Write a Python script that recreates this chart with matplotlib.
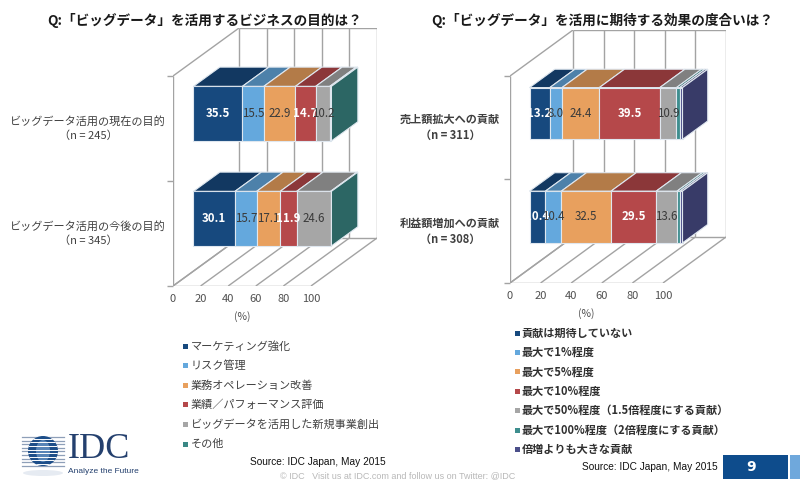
import numpy as np
import matplotlib
matplotlib.use('Agg')
import matplotlib.pyplot as plt
from matplotlib.patches import Polygon, Rectangle, Circle, Ellipse
from matplotlib.colors import to_rgb

plt.rcParams['font.family'] = ['Noto Sans CJK JP', 'DejaVu Sans']

# --- data ---
left_title = 'Q:「ビッグデータ」を活用するビジネスの目的は？'
left_categories = ['ビッグデータ活用の現在の目的\n（n = 245）', 'ビッグデータ活用の今後の目的\n（n = 345）']
left_series = ['マーケティング強化', 'リスク管理', '業務オペレーション改善',
               '業績／パフォーマンス評価', 'ビッグデータを活用した新規事業創出', 'その他']
left_current = [35.5, 15.5, 22.9, 14.7, 10.2, 1.2]
left_future = [30.1, 15.7, 17.1, 11.9, 24.6, 0.6]

right_title = 'Q:「ビッグデータ」を活用に期待する効果の度合いは？'
right_categories = ['売上額拡大への貢献\n（n = 311）', '利益額増加への貢献\n（n = 308）']
right_series = ['貢献は期待していない', '最大で1%程度', '最大で5%程度', '最大で10%程度',
                '最大で50%程度（1.5倍程度にする貢献）', '最大で100%程度（2倍程度にする貢献）',
                '倍増よりも大きな貢献']
right_sales = [13.2, 8.0, 24.4, 39.5, 10.9, 2.1, 1.9]
right_profit = [10.4, 10.4, 32.5, 29.5, 13.6, 1.9, 1.7]

x_ticks = [0, 20, 40, 60, 80, 100]
source_text = 'Source: IDC Japan, May 2015'

# --- styles ---
left_colors = ['#17497E', '#64A8DD', '#E8A05E', '#B5484A', '#A6A6A6', '#3A8885']
right_colors = ['#17497E', '#64A8DD', '#E8A05E', '#B5484A', '#A6A6A6', '#3E8E8E', '#4B4F8A']
white_label = [True, False, False, True, False, False, False]

W, H = 800, 486
fig = plt.figure(figsize=(8, 4.86), dpi=100)
fig.patch.set_facecolor('white')


def shade(c, k=0.77):
    r, g, b = to_rgb(c)
    return (r * k, g * k, b * k)


def draw_chart(ox, oy, sx, sy, ddx, ddy, rows, cats, colors, half, pad, weight):
    # oblique "3D" look: depth offset (DX, DY) in data units
    DX, DY = ddx / sx, ddy / sy
    xmax, ymax = 100 + DX, 2 + DY
    ax = fig.add_axes([ox / W, 1 - oy / H, xmax * sx / W, ymax * sy / H])
    ax.set_xlim(0, xmax)
    ax.set_ylim(0, ymax)
    ax.patch.set_visible(False)
    for s in ax.spines.values():
        s.set_visible(False)

    wall = dict(color='#a3a3a3', lw=1.0, zorder=1, solid_capstyle='butt')
    for t in x_ticks:
        ax.plot([t, t + DX], [0, DY], **wall)
        ax.plot([t + DX, t + DX], [DY, 2 + DY], **wall)
    ax.plot([0, 100], [0, 0], **wall)
    ax.plot([DX, 100 + DX], [DY, DY], **wall)
    ax.plot([DX, 100 + DX], [2 + DY, 2 + DY], **wall)
    ax.plot([0, DX], [0, DY], **wall)
    ax.plot([0, DX], [2, 2 + DY], **wall)
    ax.plot([0, 0], [0, 2], **wall)

    ax.set_xticks(x_ticks)
    ax.set_xticklabels([str(t) for t in x_ticks])
    ax.tick_params(axis='x', length=0, pad=6, labelsize=8, labelcolor='#505050')
    ax.set_yticks([0, 1, 2])
    ax.set_yticklabels([])
    ax.tick_params(axis='y', length=4, color='#a3a3a3', width=1)
    ax.annotate('(%)', xy=(50, 0), xytext=(0, -31), textcoords='offset pixels',
                ha='center', va='center', fontsize=7.5, color='#505050',
                annotation_clip=False)

    f0, f1 = 0.31, 0.71
    edge = '#dfe7ef'
    for yc, vals, cat in zip([1.5, 0.5], rows, cats):
        y0, y1 = yc - half, yc + half
        left = 0
        for i, v in enumerate(vals):
            a, b = left, left + v
            front = [(a + f0 * DX, y0 + f0 * DY), (b + f0 * DX, y0 + f0 * DY),
                     (b + f0 * DX, y1 + f0 * DY), (a + f0 * DX, y1 + f0 * DY)]
            top = [(a + f0 * DX, y1 + f0 * DY), (b + f0 * DX, y1 + f0 * DY),
                   (b + f1 * DX, y1 + f1 * DY), (a + f1 * DX, y1 + f1 * DY)]
            ax.add_patch(Polygon(front, fc=colors[i], ec=edge, lw=0.8, zorder=3))
            ax.add_patch(Polygon(top, fc=shade(colors[i]), ec=edge, lw=0.8, zorder=3))
            if v >= 5:
                ax.text((a + b) / 2 + f0 * DX, yc + f0 * DY, f'{v:.1f}',
                        ha='center', va='center', fontsize=8.3, zorder=4,
                        color='white' if white_label[i] else '#3a3a3a',
                        fontweight='bold' if white_label[i] else 'normal')
            left = b
        side = [(left + f0 * DX, y0 + f0 * DY), (left + f1 * DX, y0 + f1 * DY),
                (left + f1 * DX, y1 + f1 * DY), (left + f0 * DX, y1 + f0 * DY)]
        ax.add_patch(Polygon(side, fc=shade(colors[-1], 0.75), ec=edge, lw=0.8, zorder=3))
        ax.annotate(cat, xy=(0, yc), xytext=(-pad, 0), textcoords='offset pixels',
                    ha='right', va='center', multialignment='center', linespacing=1.3,
                    fontsize=8, color='#404040', fontweight=weight,
                    annotation_clip=False)
    return ax


draw_chart(173, 286, 1.38, 105, 66, 48, [left_current, left_future],
           left_categories, left_colors, 0.26, 7, 'normal')
draw_chart(510, 283, 1.53, 103.5, 63, 46, [right_sales, right_profit],
           right_categories, right_colors, 0.25, 10, 'bold')

fig.text(205 / W, 1 - 20 / H, left_title, ha='center', va='center',
         fontsize=9.8, fontweight='bold', color='#1a1a1a')
fig.text(602 / W, 1 - 20 / H, right_title, ha='center', va='center',
         fontsize=9.8, fontweight='bold', color='#1a1a1a')

# legends
for i, (name, c) in enumerate(zip(left_series, left_colors)):
    y = 346 + i * 19.6
    fig.add_artist(Rectangle((182.5 / W, 1 - (y + 2.5) / H), 5 / W, 5 / H,
                             transform=fig.transFigure, fc=c, ec='none'))
    fig.text(191 / W, 1 - y / H, name, ha='left', va='center', fontsize=8, color='#404040')

for i, (name, c) in enumerate(zip(right_series, right_colors)):
    y = 333 + i * 19.4
    fig.add_artist(Rectangle((515 / W, 1 - (y + 2.5) / H), 5 / W, 5 / H,
                             transform=fig.transFigure, fc=c, ec='none'))
    fig.text(522 / W, 1 - y / H, name, ha='left', va='center', fontsize=8,
             color='#303030', fontweight='bold')

sans = ['Liberation Sans', 'DejaVu Sans']
fig.text(250 / W, 1 - 462 / H, source_text, ha='left', va='center', fontsize=7.3,
         family=sans, color='#111111')
fig.text(582 / W, 1 - 467 / H, source_text, ha='left', va='center', fontsize=7.3,
         family=sans, color='#111111')
fig.text(398 / W, 1 - 476 / H, '© IDC   Visit us at IDC.com and follow us on Twitter: @IDC',
         ha='center', va='center', fontsize=6.5, family=sans, color='#b8b8b8')

# page number box
fig.add_artist(Rectangle((723 / W, 1 - 479 / H), 65 / W, 24 / H,
                         transform=fig.transFigure, fc='#0E4C8C', ec='none'))
fig.add_artist(Rectangle((790 / W, 1 - 479 / H), 10 / W, 24 / H,
                         transform=fig.transFigure, fc='#6FA8DC', ec='none'))
fig.text(751 / W, 1 - 467 / H, '9', ha='center', va='center', fontsize=10,
         fontweight='bold', color='white', family='DejaVu Sans')

# IDC logo
lg = fig.add_axes([15 / W, 1 - 480 / H, 55 / W, 52 / H])
lg.set_xlim(15, 70)
lg.set_ylim(480, 428)
lg.axis('off')
lg.add_patch(Ellipse((43, 473), 40, 6, fc='#e6ebf2', ec='none', zorder=1))
for yy in np.arange(437, 467, 3.6):
    lg.plot([22, 64], [yy, yy], color='#8e9fb8', lw=0.9, zorder=1)
globe = Circle((43, 451), 15, fc='#1d4e89', ec='none', zorder=2)
lg.add_patch(globe)
hl = Ellipse((43, 451), 14, 22, fc='#7ea9d6', ec='none', zorder=2, alpha=0.6)
lg.add_patch(hl)
hl.set_clip_path(globe)
for yy in np.arange(437, 467, 3.6):
    ln, = lg.plot([22, 64], [yy + 1.8, yy + 1.8], color='white', lw=0.7, zorder=3)
    ln.set_clip_path(globe)
fig.text(68 / W, 1 - 449 / H, 'IDC', ha='left', va='center', fontsize=26,
         family=['Liberation Serif', 'DejaVu Serif'], color='#24406E')
fig.text(68 / W, 1 - 471 / H, 'Analyze the Future', ha='left', va='center', fontsize=6,
         family=sans, color='#24406E')

fig.savefig('out.png', dpi=100)
